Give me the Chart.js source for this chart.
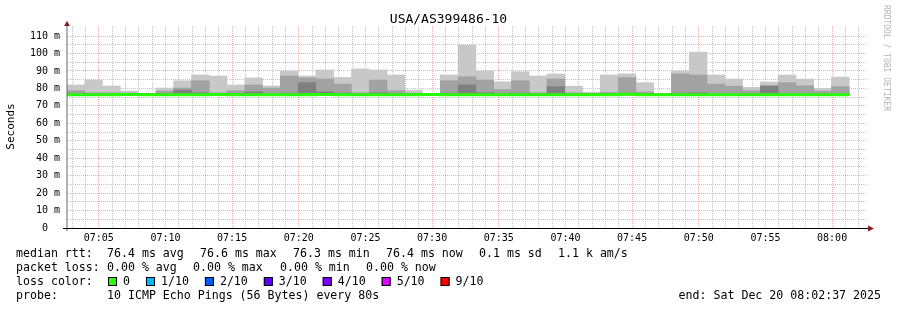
<!DOCTYPE html>
<html>
<head>
<meta charset="utf-8">
<title>USA/AS399486-10</title>
<script src="https://cdn.jsdelivr.net/npm/chart.js@4.4.0/dist/chart.umd.min.js"></script>
<style>
  html, body { margin: 0; padding: 0; background: #fff; }
  canvas { display: block; }
</style>
</head>
<body>
<canvas id="smoke" width="897" height="310"></canvas>
<script>
// one sample every 80 s, the first one starts at 07:02:37 (seconds counted from 07:00:00)
const firstSample = 157;
const sampleStep = 80;
const windowEnd = 3757;

// smoke bands per sample, all of them start at pingMin (ms)
const pingMin = [76.2, 76.1, 76.2, 76.2, 76.1, 76.2, 76.2, 76.3, 76.2, 76.1, 76.2, 76.2,
  76.1, 76.3, 76.2, 76.2, 76.1, 76.2, 76.2, 76.1, 76.2, 76.2, 76.3, 76.1,
  76.0, 76.2, 76.2, 76.1, 76.2, 76.1, 76.2, 76.2, 76.1, 76.2, 76.2, 76.0,
  76.2, 76.1, 76.2, 76.2, 76.2, 76.1, 76.2, 76.2];
const smokeOuter = [82.0, 84.8, 81.4, 78.5, 77.2, 80.2, 84.4, 87.7, 87.1, 82.0, 86.0, 81.4,
  90.0, 87.1, 90.6, 86.3, 91.2, 90.6, 87.7, 79.0, 77.2, 87.7, 104.8, 90.0,
  83.8, 89.6, 87.1, 88.3, 81.3, 77.8, 87.7, 88.3, 83.3, 77.2, 90.0, 100.8,
  87.7, 85.4, 80.6, 83.7, 87.7, 85.4, 80.0, 86.5];
const smokeMiddle = [78.7, 77.5, 77.5, 77.3, 77.0, 78.5, 80.2, 84.4, 77.5, 78.7, 82.0, 80.2,
  87.1, 86.0, 85.4, 82.5, 77.5, 84.8, 78.7, 77.3, 77.0, 84.4, 86.7, 84.8,
  79.4, 84.4, 77.5, 85.4, 77.5, 77.0, 77.8, 86.2, 78.0, 77.0, 88.3, 87.7,
  82.5, 81.3, 78.7, 81.4, 83.3, 81.5, 78.5, 81.0];
const smokeInner = [77.0, 77.0, 77.0, 77.0, 77.0, 77.0, 79.0, 77.5, 77.0, 77.0, 78.0, 77.0,
  77.3, 83.3, 78.0, 77.3, 77.0, 77.5, 77.0, 77.0, 77.0, 77.3, 82.0, 77.5,
  77.0, 77.3, 77.0, 81.0, 77.0, 77.0, 77.0, 77.3, 77.0, 77.0, 77.3, 77.5,
  77.0, 77.0, 77.0, 81.4, 77.0, 77.0, 77.0, 77.0];
const medianRtt = [76.4, 76.4, 76.4, 76.5, 76.4, 76.4, 76.4, 76.4, 76.5, 76.4, 76.4, 76.4,
  76.4, 76.4, 76.5, 76.4, 76.4, 76.4, 76.4, 76.4, 76.5, 76.4, 76.4, 76.3,
  76.3, 76.4, 76.4, 76.3, 76.4, 76.4, 76.4, 76.6, 76.4, 76.4, 76.4, 76.3,
  76.4, 76.4, 76.4, 76.4, 76.4, 76.4, 76.4, 76.4];

const timeLabels = ['07:05', '07:10', '07:15', '07:20', '07:25', '07:30',
  '07:35', '07:40', '07:45', '07:50', '07:55', '08:00'];
const yLabels = ['0  ', '10 m', '20 m', '30 m', '40 m', '50 m', '60 m',
  '70 m', '80 m', '90 m', '100 m', '110 m'];

const chartTitle = 'USA/AS399486-10';
const rttStats = ['76.4 ms avg', '76.6 ms max', '76.3 ms min', '76.4 ms now', '0.1 ms sd', '1.1 k am/s'];
const lossStats = ['0.00 % avg', '0.00 % max', '0.00 % min', '0.00 % now'];
const lossLabels = ['0', '1/10', '2/10', '3/10', '4/10', '5/10', '9/10'];
const lossColors = ['#26ff00', '#00b8ff', '#0059ff', '#5e00ff', '#7e00ff', '#dd00ff', '#ff0000'];
const probeText = '10 ICMP Echo Pings (56 Bytes) every 80s';
const endText = 'end: Sat Dec 20 08:02:37 2025';

const MONO = '"DejaVu Sans Mono", monospace';
Chart.defaults.font.family = MONO;
Chart.defaults.color = '#000';

function band(tops) {
  return tops.map((t, i) => ({ x: firstSample + i * sampleStep + sampleStep / 2, y: [pingMin[i], t] }));
}

const medianPoints = medianRtt.map((v, i) => ({ x: firstSample + i * sampleStep, y: v }));
medianPoints.push({ x: firstSample + medianRtt.length * sampleStep, y: medianRtt[medianRtt.length - 1] });

// bars sit on their own hidden time axis so the minute grid does not shrink them
const barCommon = { xAxisID: 'xb', grouped: false, barPercentage: 1, categoryPercentage: 1, borderWidth: 0 };

const rrdDecor = {
  id: 'rrdDecor',
  afterDraw(chart) {
    const ctx = chart.ctx;
    const a = chart.chartArea;
    ctx.save();

    // axes + arrows
    ctx.strokeStyle = '#666';
    ctx.lineWidth = 1;
    ctx.beginPath();
    ctx.moveTo(a.left, a.bottom + 3);
    ctx.lineTo(a.left, a.top - 1);
    ctx.stroke();
    ctx.strokeStyle = '#000';
    ctx.beginPath();
    ctx.moveTo(a.left - 4, a.bottom + 0.5);
    ctx.lineTo(a.right + 1, a.bottom + 0.5);
    ctx.stroke();
    ctx.fillStyle = '#8b1a1a';
    ctx.beginPath();
    ctx.moveTo(a.left - 3, a.top - 1);
    ctx.lineTo(a.left + 3, a.top - 1);
    ctx.lineTo(a.left, a.top - 6);
    ctx.closePath();
    ctx.fill();
    ctx.beginPath();
    ctx.moveTo(a.right + 1, a.bottom - 2.5);
    ctx.lineTo(a.right + 1, a.bottom + 3.5);
    ctx.lineTo(a.right + 7, a.bottom + 0.5);
    ctx.closePath();
    ctx.fill();

    // title and axis title
    ctx.fillStyle = '#000';
    ctx.textBaseline = 'middle';
    ctx.textAlign = 'center';
    ctx.font = '13px ' + MONO;
    ctx.fillText(chartTitle, 448.5, 19.5);
    ctx.save();
    ctx.translate(11, 126.5);
    ctx.rotate(-Math.PI / 2);
    ctx.font = '11px ' + MONO;
    ctx.fillText('Seconds', 0, 0);
    ctx.restore();

    // watermark
    ctx.save();
    ctx.translate(886, 5);
    ctx.rotate(Math.PI / 2);
    ctx.textAlign = 'left';
    ctx.fillStyle = '#b4b4b4';
    ctx.font = '8px ' + MONO;
    ctx.fillText('RRDTOOL / TOBI OETIKER', 0, 0);
    ctx.restore();

    // legend block
    ctx.textAlign = 'left';
    ctx.font = '11.6px ' + MONO;
    const rows = [254, 268.3, 282.3, 296.3];
    ctx.fillText('median rtt:', 16, rows[0]);
    [107, 200, 293, 386, 479, 558].forEach((x, i) => ctx.fillText(rttStats[i], x, rows[0]));
    ctx.fillText('packet loss:', 16, rows[1]);
    [107, 193, 280, 366].forEach((x, i) => ctx.fillText(lossStats[i], x, rows[1]));
    ctx.fillText('loss color:', 16, rows[2]);
    let x = 108;
    lossLabels.forEach((lbl, i) => {
      ctx.fillStyle = lossColors[i];
      ctx.fillRect(x, 277, 9, 9);
      ctx.strokeStyle = '#000';
      ctx.strokeRect(x + 0.5, 277.5, 8, 8);
      ctx.fillStyle = '#000';
      ctx.fillText(lbl, x + 15, rows[2]);
      x += 15 + ctx.measureText(lbl).width + 16;
    });
    ctx.fillText('probe:', 16, rows[3]);
    ctx.fillText(probeText, 107, rows[3]);
    ctx.textAlign = 'right';
    ctx.fillText(endText, 881, rows[3]);
    ctx.restore();
  }
};

function gridColor(ctx, major) {
  return ctx.tick && ctx.tick.value % major === 0 ? 'rgba(255,0,0,0.33)' : 'rgba(140,140,140,0.5)';
}

new Chart(document.getElementById('smoke'), {
  type: 'bar',
  data: {
    datasets: [
      {
        type: 'line',
        data: medianPoints,
        stepped: true,
        borderColor: lossColors[0],
        borderWidth: 3,
        borderCapStyle: 'butt',
        pointRadius: 0,
        fill: false
      },
      { ...barCommon, data: band(smokeInner), backgroundColor: '#808080' },
      { ...barCommon, data: band(smokeMiddle), backgroundColor: '#a2a2a2' },
      { ...barCommon, data: band(smokeOuter), backgroundColor: '#c8c8c8' }
    ]
  },
  options: {
    responsive: false,
    animation: false,
    layout: { padding: { top: 27, right: 30, left: 0, bottom: 0 } },
    plugins: { legend: { display: false }, tooltip: { enabled: false } },
    scales: {
      x: {
        type: 'linear',
        min: firstSample,
        max: windowEnd,
        offset: false,
        afterBuildTicks: s => {
          s.ticks = [];
          for (let t = 180; t <= 3720; t += 60) s.ticks.push({ value: t });
        },
        afterFit: s => { s.height = 82; },
        ticks: {
          autoSkip: false,
          maxRotation: 0,
          padding: 4,
          font: { size: 10 },
          callback: v => (v % 300 === 0 ? timeLabels[v / 300 - 1] : '')
        },
        grid: { offset: false, drawTicks: false, color: c => gridColor(c, 300) },
        border: { display: false, dash: [1, 1] }
      },
      xb: {
        type: 'linear',
        display: false,
        min: firstSample,
        max: windowEnd,
        offset: false,
        afterBuildTicks: s => { s.ticks = [{ value: firstSample }, { value: windowEnd }]; }
      },
      y: {
        min: 0,
        max: 115.2,
        afterBuildTicks: s => {
          s.ticks = [];
          for (let v = 0; v <= 110; v += 5) s.ticks.push({ value: v });
        },
        afterFit: s => { s.width = 67; },
        ticks: {
          autoSkip: false,
          padding: 7,
          font: { size: 10 },
          callback: v => (v % 10 === 0 ? yLabels[v / 10] : '')
        },
        grid: { drawTicks: false, color: c => gridColor(c, 10) },
        border: { display: false, dash: [1, 1] }
      }
    }
  },
  plugins: [rrdDecor]
});
</script>
</body>
</html>
